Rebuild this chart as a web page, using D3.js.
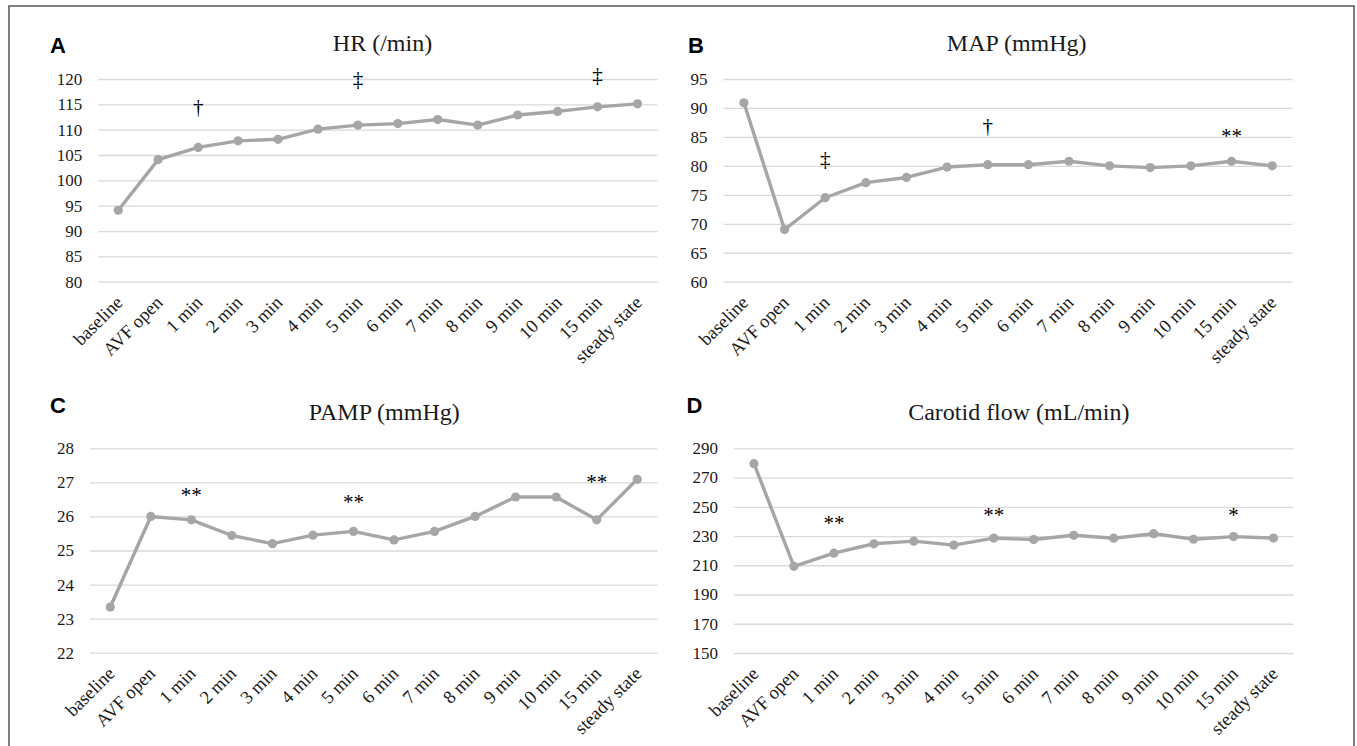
<!DOCTYPE html>
<html>
<head>
<meta charset="utf-8">
<title>AVF opening - hemodynamics</title>
<script src="https://cdn.jsdelivr.net/npm/d3@7"></script>
<style>
    body { margin: 0; background: #fff; }
    svg { display: block; }
    text { font-family: "Liberation Serif", "Times New Roman", serif; fill: #1a1a1a; }
    .grid line { stroke: #d9d9d9; stroke-width: 1.3px; }
    .grid .domain, .xaxis .domain { display: none; }
    .grid text { font-size: 17px; }
    .xaxis text { font-size: 18.5px; }
    .series { fill: none; stroke: #a6a6a6; stroke-width: 3.4px; stroke-linejoin: round; }
    .dot { fill: #a6a6a6; }
    .title { font-size: 24px; }
    .letter { font-family: "Liberation Sans", Arial, sans-serif; font-weight: bold; font-size: 22px; fill: #000; }
    .mark { font-size: 21px; fill: #000; }
    .frame { fill: none; stroke: #555; stroke-width: 1.5px; }
</style>
</head>
<body>
<script>
var categories = ["baseline", "AVF open", "1 min", "2 min", "3 min", "4 min", "5 min",
    "6 min", "7 min", "8 min", "9 min", "10 min", "15 min", "steady state"];

var hrValues   = [94.1, 104.1, 106.5, 107.8, 108.1, 110.1, 110.9, 111.2, 112.0, 110.9, 112.9, 113.6, 114.5, 115.1];
var mapValues  = [90.9, 69.0, 74.5, 77.1, 78.0, 79.8, 80.2, 80.2, 80.8, 80.0, 79.7, 80.0, 80.8, 80.0];
var pampValues = [23.34, 26.0, 25.9, 25.44, 25.2, 25.45, 25.56, 25.31, 25.56, 26.0, 26.57, 26.57, 25.9, 27.09];
var flowValues = [279.5, 209.3, 218.3, 224.7, 226.5, 223.8, 228.6, 227.6, 230.5, 228.5, 231.6, 227.8, 229.6, 228.6];

var hrTicks   = [80, 85, 90, 95, 100, 105, 110, 115, 120];
var mapTicks  = [60, 65, 70, 75, 80, 85, 90, 95];
var pampTicks = [22, 23, 24, 25, 26, 27, 28];
var flowTicks = [150, 170, 190, 210, 230, 250, 270, 290];

// significance symbols: category, symbol, height in data units
var hrMarks   = [["1 min", "\u2020", 114.3], ["5 min", "\u2021", 119.9], ["15 min", "\u2021", 120.6]];
var mapMarks  = [["1 min", "\u2021", 81.0], ["5 min", "\u2020", 86.8], ["15 min", "**", 85.7]];
var pampMarks = [["1 min", "**", 26.73], ["5 min", "**", 26.53], ["15 min", "**", 27.1]];
var flowMarks = [["1 min", "**", 241], ["5 min", "**", 246.6], ["15 min", "*", 247.1]];

var width = 1357, height = 746;

var panels = [
    {letter: "A", title: "HR (/min)", values: hrValues, ticks: hrTicks, marks: hrMarks,
        x0: 98.3, x1: 657.5, top: 79, bottom: 281.7, titleX: 382.5, titleY: 51, lx: 50, ly: 53},
    {letter: "B", title: "MAP (mmHg)", values: mapValues, ticks: mapTicks, marks: mapMarks,
        x0: 723.6, x1: 1292.5, top: 79, bottom: 281.7, titleX: 1016.7, titleY: 51, lx: 688, ly: 53},
    {letter: "C", title: "PAMP (mmHg)", values: pampValues, ticks: pampTicks, marks: pampMarks,
        x0: 90, x1: 657.5, top: 448.3, bottom: 652.7, titleX: 384.3, titleY: 420, lx: 50, ly: 413},
    {letter: "D", title: "Carotid flow (mL/min)", values: flowValues, ticks: flowTicks, marks: flowMarks,
        x0: 734, x1: 1293.5, top: 448.3, bottom: 653, titleX: 1018.8, titleY: 420, lx: 686.5, ly: 413}
];

var svg = d3.select("body").append("svg")
    .attr("width", width)
    .attr("height", height);

svg.append("rect")
    .attr("class", "frame")
    .attr("x", 9).attr("y", 6)
    .attr("width", 1345).attr("height", 760);

panels.forEach(function (p) {
    var x = d3.scalePoint()
        .domain(categories)
        .range([p.x0, p.x1])
        .padding(0.5);

    var y = d3.scaleLinear()
        .domain(d3.extent(p.ticks))
        .range([p.bottom, p.top]);

    var g = svg.append("g");

    // gridlines + y labels
    g.append("g")
        .attr("class", "grid")
        .attr("transform", "translate(" + p.x0 + ",0)")
        .call(d3.axisLeft(y)
            .tickValues(p.ticks)
            .tickSize(-(p.x1 - p.x0))
            .tickPadding(16)
            .tickFormat(d3.format("d")));

    // category labels, rotated
    g.append("g")
        .attr("class", "xaxis")
        .attr("transform", "translate(0," + p.bottom + ")")
        .call(d3.axisBottom(x).tickSize(0))
        .selectAll("text")
        .attr("x", 0).attr("y", 0).attr("dy", 0)
        .style("text-anchor", "end")
        .attr("transform", "translate(5,22) rotate(-45)");
    g.selectAll(".xaxis line").remove();

    var line = d3.line()
        .x(function (d, i) { return x(categories[i]); })
        .y(function (d) { return y(d); });

    g.append("path")
        .datum(p.values)
        .attr("class", "series")
        .attr("d", line);

    g.selectAll(".dot")
        .data(p.values)
        .enter().append("circle")
        .attr("class", "dot")
        .attr("cx", function (d, i) { return x(categories[i]); })
        .attr("cy", function (d) { return y(d); })
        .attr("r", 4.6);

    g.selectAll(".mark")
        .data(p.marks)
        .enter().append("text")
        .attr("class", "mark")
        .attr("text-anchor", "middle")
        .attr("x", function (d) { return x(d[0]); })
        .attr("y", function (d) { return y(d[2]); })
        .attr("dy", function (d) { return d[1].charAt(0) === "*" ? "0.5em" : "0.3em"; })
        .text(function (d) { return d[1]; });

    g.append("text")
        .attr("class", "title")
        .attr("text-anchor", "middle")
        .attr("x", p.titleX)
        .attr("y", p.titleY)
        .text(p.title);

    g.append("text")
        .attr("class", "letter")
        .attr("x", p.lx)
        .attr("y", p.ly)
        .text(p.letter);
});
</script>
</body>
</html>
